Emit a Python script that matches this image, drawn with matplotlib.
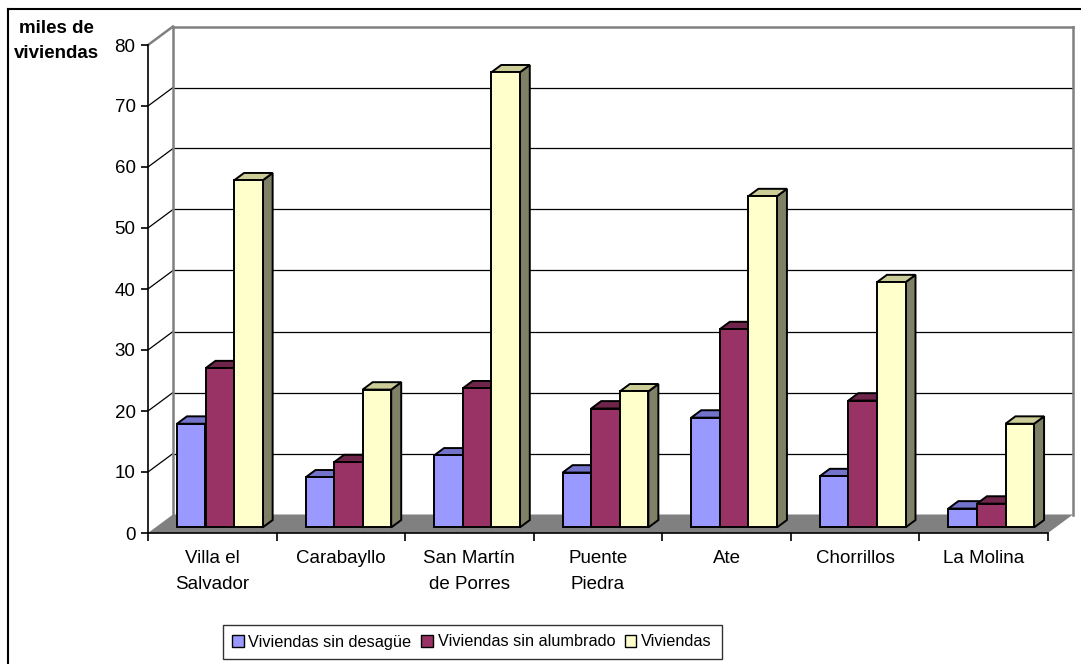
import matplotlib
matplotlib.use("Agg")
import matplotlib.pyplot as plt
from matplotlib.patches import Polygon, Rectangle, Patch
from matplotlib.lines import Line2D

plt.rcParams["font.family"] = ["Liberation Sans", "DejaVu Sans"]

# --- data (thousands of dwellings) ---
districts = ["Villa el\nSalvador", "Carabayllo", "San Martín\nde Porres",
             "Puente\nPiedra", "Ate", "Chorrillos", "La Molina"]
sin_desague = [17.0, 8.2, 11.8, 9.0, 18.0, 8.4, 3.1]
sin_alumbrado = [26.1, 10.7, 22.8, 19.5, 32.5, 20.8, 3.9]
viviendas = [56.9, 22.6, 74.6, 22.3, 54.3, 40.2, 17.0]
series_names = ["Viviendas sin desagüe", "Viviendas sin alumbrado", "Viviendas"]
yticks = list(range(0, 90, 10))

series = [sin_desague, sin_alumbrado, viviendas]
front_col = ["#9999FF", "#993366", "#FFFFCC"]
top_col = ["#7373CC", "#6E2549", "#CCCC99"]
side_col = ["#5C5CA3", "#5A1E3C", "#808066"]

W, H = 1081, 664
fig = plt.figure(figsize=(W / 100, H / 100), dpi=100)
ax = fig.add_axes([148 / W, (H - 533) / H, 900 / W, 488 / H])
ax.set_xlim(0, len(districts))
ax.set_ylim(0, 80)
ax.patch.set_visible(False)

# oblique depth offset of the box, in data units
DX = 25 / (900 / len(districts))
DY = 18.5 / 6.1
F1, F2 = 0.3, 0.7  # bars occupy the middle of the depth
n = len(districts)

# floor
ax.add_patch(Polygon([(0, 0), (n, 0), (n + DX, DY), (DX, DY)], closed=True,
                     facecolor="#808080", edgecolor="none", zorder=1, clip_on=False))

# back wall gridlines and side wall diagonals
for v in yticks[1:]:
    c = "#808080" if v == 80 else "black"
    lw = 1.8 if v == 80 else 0.9
    ax.plot([DX, n + DX], [v + DY, v + DY], color=c, lw=lw, zorder=1.5, clip_on=False)
    ax.plot([0, DX], [v, v + DY], color=c, lw=lw, zorder=1.5, clip_on=False)
ax.plot([DX, DX], [DY, 80 + DY], color="#808080", lw=1.8, zorder=1.6, clip_on=False)
ax.plot([n + DX, n + DX], [DY, 80 + DY], color="#808080", lw=1.8, zorder=1.6, clip_on=False)

# 3D-looking columns
w = 1 / 4.5
ddx, ddy = (F2 - F1) * DX, (F2 - F1) * DY
z = 3
for i in range(n):
    for j, vals in enumerate(series):
        v = vals[i]
        x0 = i + 0.75 * w + j * w + F1 * DX
        y0 = F1 * DY
        kw = dict(edgecolor="black", lw=1.4, clip_on=False, joinstyle="miter")
        ax.add_patch(Polygon([(x0 + w, y0), (x0 + w + ddx, y0 + ddy),
                              (x0 + w + ddx, y0 + v + ddy), (x0 + w, y0 + v)],
                             closed=True, facecolor=side_col[j], zorder=z, **kw))
        ax.add_patch(Polygon([(x0, y0 + v), (x0 + w, y0 + v),
                              (x0 + w + ddx, y0 + v + ddy), (x0 + ddx, y0 + v + ddy)],
                             closed=True, facecolor=top_col[j], zorder=z, **kw))
        ax.add_patch(Rectangle((x0, y0), w, v, facecolor=front_col[j], zorder=z, **kw))
        z += 0.01

# axes, ticks and labels
for s in ["top", "right"]:
    ax.spines[s].set_visible(False)
ax.spines["left"].set_linewidth(1.2)
ax.spines["bottom"].set_linewidth(1.2)
ax.set_yticks(yticks)
ax.tick_params(axis="y", direction="out", length=5, width=1.2, pad=4, labelsize=13.5)
ax.set_xticks(range(n + 1))
ax.set_xticklabels([])
ax.tick_params(axis="x", which="major", direction="out", length=6, width=1.2)
ax.set_xticks([i + 0.5 for i in range(n)], minor=True)
ax.set_xticklabels(districts, minor=True, fontsize=13.5, linespacing=1.7, va="top")
ax.tick_params(axis="x", which="minor", length=0, pad=12)

fig.text(56 / W, 1 - 41 / H, "miles de\nviviendas", ha="center", va="center",
         fontsize=13.5, fontweight="bold", linespacing=1.55)

# legend
handles = [Patch(facecolor=c, edgecolor="black", lw=1) for c in front_col]
leg = fig.legend(handles, series_names, ncol=3, loc="center",
                 bbox_to_anchor=(472 / W, 1 - 642 / H), fontsize=11.7,
                 frameon=True, fancybox=False, edgecolor="black",
                 handlelength=0.7, handleheight=0.7, handletextpad=0.3,
                 columnspacing=0.6, borderpad=0.6, borderaxespad=0)
leg.get_frame().set_linewidth(1)

# chart area border
fig.add_artist(Line2D([8 / W, 8 / W], [0, 1 - 9 / H], color="black", lw=1.5))
fig.add_artist(Line2D([8 / W, 1], [1 - 9 / H, 1 - 9 / H], color="black", lw=1.5))

fig.savefig("out.png", dpi=100)
